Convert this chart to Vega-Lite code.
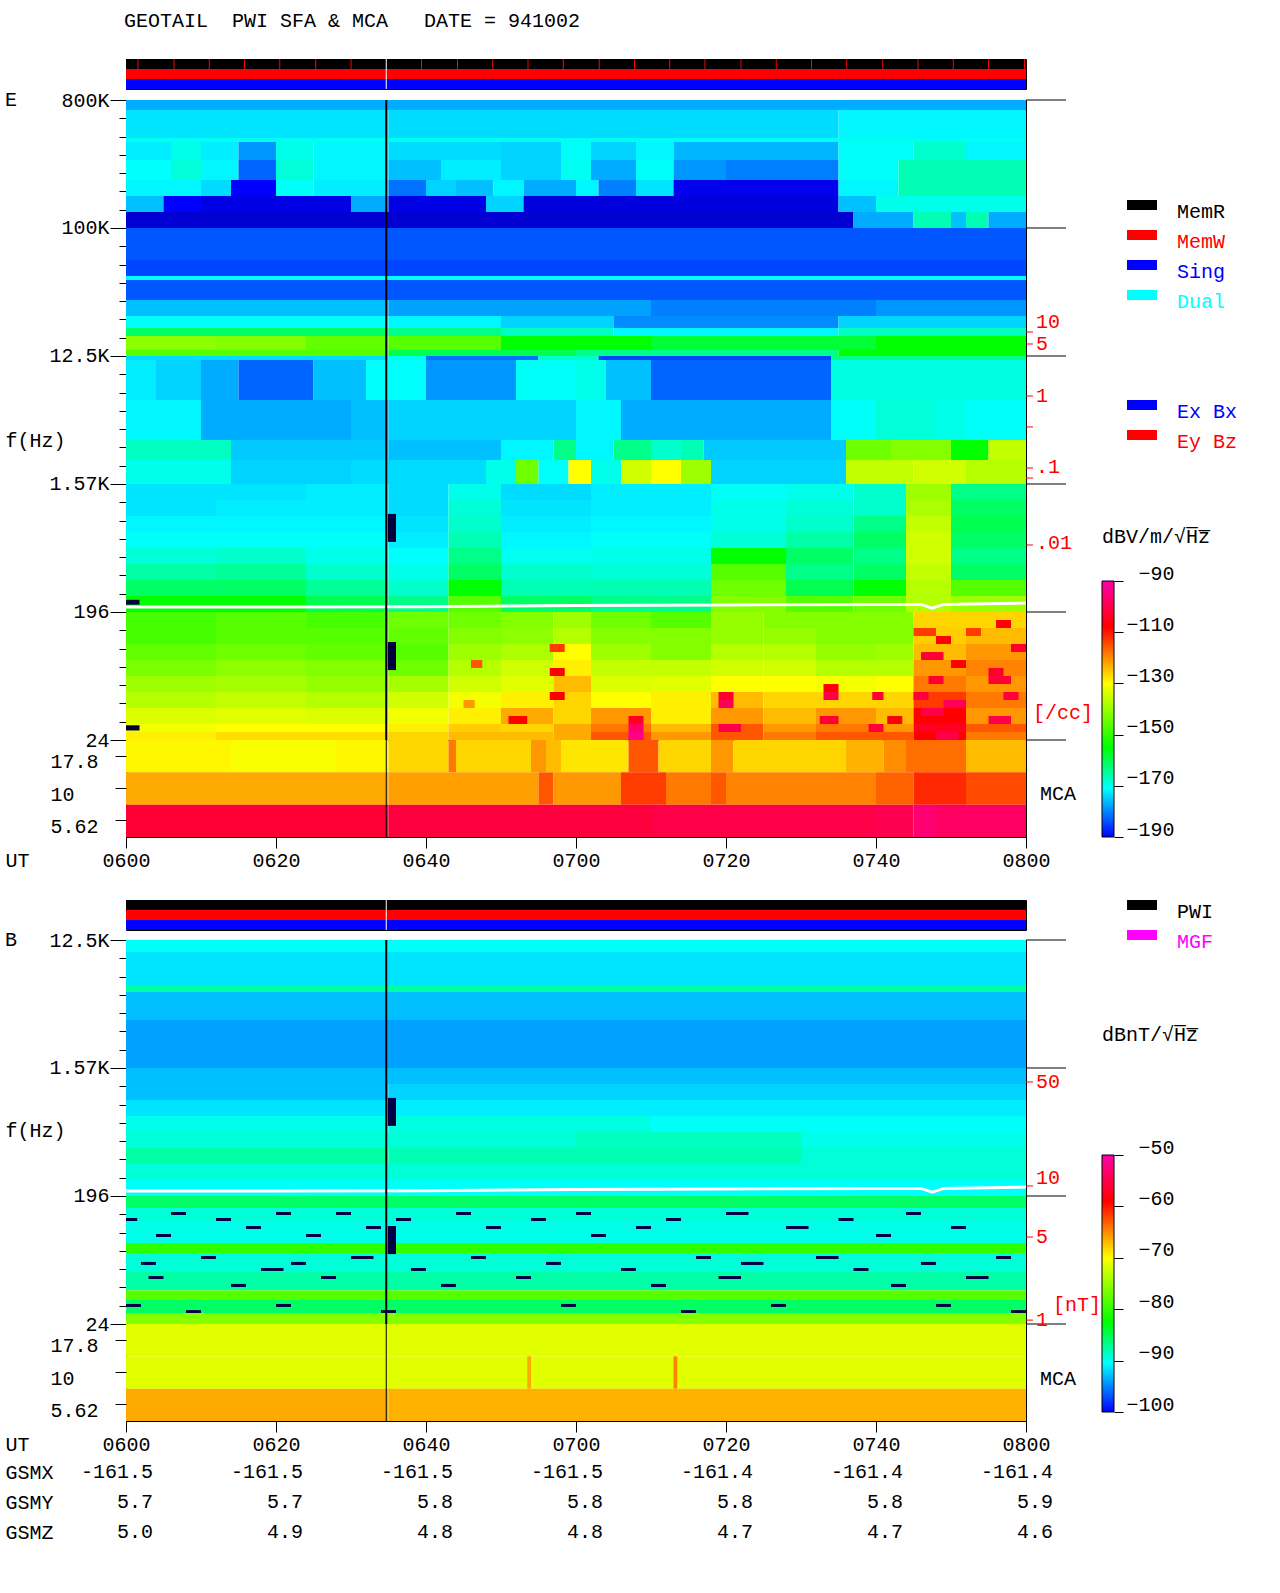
{"$schema":"https://vega.github.io/schema/vega-lite/v6.json","autosize":"none","padding":{"left":126,"top":0,"right":1154,"bottom":1593},"background":"white",
"config":{"font":"Liberation Mono","view":{"stroke":null},"axis":{"grid":false,"domain":false,"labelFont":"Liberation Mono","labelFontSize":20,"titleFont":"Liberation Mono","titleFontSize":20,"titleFontWeight":"normal","labelOverlap":false,"labelBound":false,"labelFlush":false,"labelColor":"black","tickColor":"black","titleColor":"black"},"title":{"font":"Liberation Mono","fontSize":20,"fontWeight":"normal","anchor":"start","frame":"group"},"concat":{"spacing":0}},
"datasets":{
"st":[{"m":"MemR","t":0,"t2":120,"k":"black"},{"m":"MemW","t":0,"t2":120,"k":"red"},{"m":"Sing","t":0,"t2":120,"k":"blue"}],
"blE":[{"f":800000},{"f":100000},{"f":12500},{"f":1562.5},{"f":195.3},{"f":24.41}],
"blB":[{"f":12500},{"f":1562.5},{"f":195.3},{"f":24.41}],
"nE":[{"f":18460,"lf":21680,"s":"10"},{"f":15190,"lf":15190,"s":"\u00a05"},{"f":6527,"lf":6527,"s":"\u00a01"},{"f":3949,"lf":3949,"s":""},{"f":2026,"lf":2060,"s":".1"},{"f":1721,"lf":1721,"s":""},{"f":580,"lf":600,"s":".01"}],
"nB":[{"f":1245,"lf":1245,"s":"50"},{"f":230,"lf":261.9,"s":"10"},{"f":100.3,"lf":100.3,"s":"5"},{"f":26,"lf":26,"s":"1"}],
"bE":[{"b":1,"f":800000,"f2":680000},{"b":2,"f":680000,"f2":431600},{"b":3,"f":431600,"f2":404500},{"b":4,"f":404500,"f2":301800},{"b":5,"f":301800,"f2":218100},{"b":6,"f":218100,"f2":168200},{"b":7,"f":168200,"f2":129700},{"b":8,"f":129700,"f2":100000},{"b":9,"f":100000,"f2":59460},{"b":10,"f":59460,"f2":45850},{"b":11,"f":45850,"f2":42970},{"b":12,"f":42970,"f2":31050},{"b":13,"f":31050,"f2":23940},{"b":14,"f":23940,"f2":19700},{"b":15,"f":19700,"f2":17300},{"b":16,"f":17300,"f2":13770},{"b":17,"f":13770,"f2":12500},{"b":18,"f":12500,"f2":11710},{"b":19,"f":11710,"f2":6116},{"b":20,"f":6116,"f2":3195},{"b":21,"f":3195,"f2":2308},{"b":22,"f":2308,"f2":1562.5},{"b":23,"f":1562.5,"f2":1205},{"b":24,"f":1205,"f2":929},{"b":25,"f":929,"f2":716.4},{"b":26,"f":716.4,"f2":552.5},{"b":27,"f":552.5,"f2":426},{"b":28,"f":426,"f2":328.4},{"b":29,"f":328.4,"f2":253.3},{"b":30,"f":253.3,"f2":195.3},{"b":31,"f":195.3,"f2":150.6},{"b":32,"f":150.6,"f2":116.1},{"b":33,"f":116.1,"f2":89.55},{"b":34,"f":89.55,"f2":69.05},{"b":35,"f":69.05,"f2":53.24},{"b":36,"f":53.24,"f2":41.05},{"b":37,"f":41.05,"f2":31.66},{"b":38,"f":31.66,"f2":27.8},{"b":39,"f":27.8,"f2":24.41},{"b":41,"f":195.3,"f2":171.5},{"b":42,"f":171.5,"f2":150.6},{"b":43,"f":150.6,"f2":132.2},{"b":44,"f":132.2,"f2":116.1},{"b":45,"f":116.1,"f2":101.9},{"b":46,"f":101.9,"f2":89.55},{"b":47,"f":89.55,"f2":78.6},{"b":48,"f":78.6,"f2":69.05},{"b":49,"f":69.05,"f2":60.6},{"b":50,"f":60.6,"f2":53.24},{"b":51,"f":53.24,"f2":46.75},{"b":52,"f":46.75,"f2":41.05},{"b":53,"f":41.05,"f2":36.05},{"b":54,"f":36.05,"f2":31.66},{"b":55,"f":31.66,"f2":27.8},{"b":56,"f":27.8,"f2":24.41},{"b":60,"f":961,"f2":610},{"b":61,"f":120,"f2":76},{"b":62,"f":238,"f2":220},{"b":63,"f":31,"f2":28.5}],
"E":[{"t":0,"t2":120,"b":1,"v":-180},{"t":0,"t2":35,"b":2,"v":-174},{"t":35,"t2":95,"b":2,"v":-175},{"t":95,"t2":120,"b":2,"v":-172},{"t":0,"t2":120,"b":3,"v":-169},
{"t":0,"t2":6,"b":4,"v":-173},{"t":6,"t2":10,"b":4,"v":-168},{"t":10,"t2":15,"b":4,"v":-173},{"t":15,"t2":20,"b":4,"v":-182},{"t":20,"t2":25,"b":4,"v":-168},{"t":25,"t2":35,"b":4,"v":-172},{"t":35,"t2":50,"b":4,"v":-175},{"t":50,"t2":58,"b":4,"v":-176},{"t":58,"t2":62,"b":4,"v":-170},{"t":62,"t2":68,"b":4,"v":-176},{"t":68,"t2":73,"b":4,"v":-172},{"t":73,"t2":95,"b":4,"v":-179},{"t":95,"t2":105,"b":4,"v":-170},{"t":105,"t2":112,"b":4,"v":-165},{"t":112,"t2":120,"b":4,"v":-172},
{"t":0,"t2":6,"b":5,"v":-171},{"t":6,"t2":10,"b":5,"v":-166},{"t":10,"t2":15,"b":5,"v":-172},{"t":15,"t2":20,"b":5,"v":-186},{"t":20,"t2":25,"b":5,"v":-166},{"t":25,"t2":35,"b":5,"v":-172},{"t":35,"t2":42,"b":5,"v":-178},{"t":42,"t2":50,"b":5,"v":-173},{"t":50,"t2":58,"b":5,"v":-176},{"t":58,"t2":62,"b":5,"v":-169},{"t":62,"t2":68,"b":5,"v":-180},{"t":68,"t2":73,"b":5,"v":-170},{"t":73,"t2":80,"b":5,"v":-182},{"t":80,"t2":95,"b":5,"v":-184},{"t":95,"t2":103,"b":5,"v":-170},{"t":103,"t2":120,"b":5,"v":-163},
{"t":0,"t2":10,"b":6,"v":-172},{"t":10,"t2":14,"b":6,"v":-175},{"t":14,"t2":20,"b":6,"v":-190},{"t":20,"t2":25,"b":6,"v":-170},{"t":25,"t2":35,"b":6,"v":-173},{"t":35,"t2":40,"b":6,"v":-185},{"t":40,"t2":44,"b":6,"v":-176},{"t":44,"t2":49,"b":6,"v":-178},{"t":49,"t2":53,"b":6,"v":-172},{"t":53,"t2":60,"b":6,"v":-180},{"t":60,"t2":63,"b":6,"v":-172},{"t":63,"t2":68,"b":6,"v":-184},{"t":68,"t2":73,"b":6,"v":-174},{"t":73,"t2":95,"b":6,"v":-192},{"t":95,"t2":103,"b":6,"v":-172},{"t":103,"t2":120,"b":6,"v":-163},
{"t":0,"t2":5,"b":7,"v":-178},{"t":5,"t2":10,"b":7,"v":-190},{"t":10,"t2":30,"b":7,"v":-193},{"t":30,"t2":35,"b":7,"v":-180},{"t":35,"t2":48,"b":7,"v":-193},{"t":48,"t2":53,"b":7,"v":-176},{"t":53,"t2":95,"b":7,"v":-194},{"t":95,"t2":100,"b":7,"v":-178},{"t":100,"t2":120,"b":7,"v":-168},
{"t":0,"t2":97,"b":8,"v":-195},{"t":97,"t2":105,"b":8,"v":-180},{"t":105,"t2":110,"b":8,"v":-163},{"t":110,"t2":112,"b":8,"v":-178},{"t":112,"t2":115,"b":8,"v":-163},{"t":115,"t2":120,"b":8,"v":-180},
{"t":0,"t2":120,"b":9,"v":-187},{"t":0,"t2":120,"b":10,"v":-188},{"t":0,"t2":120,"b":11,"v":-171},{"t":0,"t2":120,"b":12,"v":-187},
{"t":0,"t2":35,"b":13,"v":-178},{"t":35,"t2":70,"b":13,"v":-181},{"t":70,"t2":100,"b":13,"v":-184},{"t":100,"t2":120,"b":13,"v":-182},
{"t":0,"t2":35,"b":14,"v":-170},{"t":35,"t2":50,"b":14,"v":-172},{"t":50,"t2":65,"b":14,"v":-176},{"t":65,"t2":95,"b":14,"v":-183},{"t":95,"t2":120,"b":14,"v":-176},
{"t":0,"t2":35,"b":15,"v":-158},{"t":35,"t2":50,"b":15,"v":-160},{"t":50,"t2":65,"b":15,"v":-164},{"t":65,"t2":95,"b":15,"v":-172},{"t":95,"t2":120,"b":15,"v":-164},
{"t":0,"t2":12,"b":16,"v":-147},{"t":12,"t2":24,"b":16,"v":-148},{"t":24,"t2":35,"b":16,"v":-151},{"t":35,"t2":50,"b":16,"v":-152},{"t":50,"t2":70,"b":16,"v":-155},{"t":70,"t2":100,"b":16,"v":-156},{"t":100,"t2":120,"b":16,"v":-155},
{"t":0,"t2":35,"b":17,"v":-152},{"t":35,"t2":60,"b":17,"v":-157},{"t":60,"t2":95,"b":17,"v":-160},{"t":95,"t2":120,"b":17,"v":-155},
{"t":0,"t2":35,"b":18,"v":-175},{"t":35,"t2":40,"b":18,"v":-168},{"t":40,"t2":55,"b":18,"v":-185},{"t":55,"t2":63,"b":18,"v":-165},{"t":63,"t2":94,"b":18,"v":-188},{"t":94,"t2":120,"b":18,"v":-160},
{"t":0,"t2":4,"b":19,"v":-173},{"t":4,"t2":10,"b":19,"v":-176},{"t":10,"t2":15,"b":19,"v":-180},{"t":15,"t2":25,"b":19,"v":-186},{"t":25,"t2":32,"b":19,"v":-178},{"t":32,"t2":40,"b":19,"v":-171},{"t":40,"t2":52,"b":19,"v":-182},{"t":52,"t2":60,"b":19,"v":-170},{"t":60,"t2":64,"b":19,"v":-168},{"t":64,"t2":70,"b":19,"v":-178},{"t":70,"t2":94,"b":19,"v":-186},{"t":94,"t2":120,"b":19,"v":-167},
{"t":0,"t2":10,"b":20,"v":-172},{"t":10,"t2":30,"b":20,"v":-180},{"t":30,"t2":35,"b":20,"v":-178},{"t":35,"t2":60,"b":20,"v":-176},{"t":60,"t2":66,"b":20,"v":-172},{"t":66,"t2":94,"b":20,"v":-180},{"t":94,"t2":100,"b":20,"v":-170},{"t":100,"t2":108,"b":20,"v":-166},{"t":108,"t2":112,"b":20,"v":-168},{"t":112,"t2":120,"b":20,"v":-170},
{"t":0,"t2":14,"b":21,"v":-164},{"t":14,"t2":35,"b":21,"v":-177},{"t":35,"t2":50,"b":21,"v":-178},{"t":50,"t2":57,"b":21,"v":-172},{"t":57,"t2":60,"b":21,"v":-160},{"t":60,"t2":65,"b":21,"v":-172},{"t":65,"t2":70,"b":21,"v":-160},{"t":70,"t2":74,"b":21,"v":-165},{"t":74,"t2":77,"b":21,"v":-163},{"t":77,"t2":96,"b":21,"v":-177},{"t":96,"t2":102,"b":21,"v":-150},{"t":102,"t2":110,"b":21,"v":-148},{"t":110,"t2":115,"b":21,"v":-155},{"t":115,"t2":120,"b":21,"v":-140},
{"t":0,"t2":14,"b":22,"v":-168},{"t":14,"t2":30,"b":22,"v":-176},{"t":30,"t2":48,"b":22,"v":-175},{"t":48,"t2":52,"b":22,"v":-168},{"t":52,"t2":55,"b":22,"v":-150},{"t":55,"t2":59,"b":22,"v":-170},{"t":59,"t2":62,"b":22,"v":-130},{"t":62,"t2":66,"b":22,"v":-168},{"t":66,"t2":70,"b":22,"v":-138},{"t":70,"t2":74,"b":22,"v":-130},{"t":74,"t2":78,"b":22,"v":-145},{"t":78,"t2":96,"b":22,"v":-176},{"t":96,"t2":105,"b":22,"v":-140},{"t":105,"t2":112,"b":22,"v":-138},{"t":112,"t2":120,"b":22,"v":-142},
{"t":0,"t2":12,"b":23,"v":-174},{"t":12,"t2":24,"b":23,"v":-174},{"t":24,"t2":35,"b":23,"v":-173},{"t":35,"t2":43,"b":23,"v":-175},{"t":43,"t2":50,"b":23,"v":-168},{"t":50,"t2":62,"b":23,"v":-175},{"t":62,"t2":78,"b":23,"v":-173},{"t":78,"t2":88,"b":23,"v":-170},{"t":88,"t2":97,"b":23,"v":-168},{"t":97,"t2":104,"b":23,"v":-165},{"t":104,"t2":110,"b":23,"v":-145},{"t":110,"t2":120,"b":23,"v":-160},
{"t":0,"t2":12,"b":24,"v":-174},{"t":12,"t2":24,"b":24,"v":-173},{"t":24,"t2":35,"b":24,"v":-173},{"t":35,"t2":43,"b":24,"v":-175},{"t":43,"t2":50,"b":24,"v":-166},{"t":50,"t2":62,"b":24,"v":-174},{"t":62,"t2":78,"b":24,"v":-173},{"t":78,"t2":88,"b":24,"v":-168},{"t":88,"t2":97,"b":24,"v":-166},{"t":97,"t2":104,"b":24,"v":-165},{"t":104,"t2":110,"b":24,"v":-143},{"t":110,"t2":120,"b":24,"v":-158},
{"t":0,"t2":12,"b":25,"v":-172},{"t":12,"t2":24,"b":25,"v":-172},{"t":24,"t2":35,"b":25,"v":-172},{"t":35,"t2":43,"b":25,"v":-174},{"t":43,"t2":50,"b":25,"v":-165},{"t":50,"t2":62,"b":25,"v":-173},{"t":62,"t2":78,"b":25,"v":-172},{"t":78,"t2":88,"b":25,"v":-168},{"t":88,"t2":97,"b":25,"v":-165},{"t":97,"t2":104,"b":25,"v":-160},{"t":104,"t2":110,"b":25,"v":-140},{"t":110,"t2":120,"b":25,"v":-157},
{"t":0,"t2":12,"b":26,"v":-170},{"t":12,"t2":24,"b":26,"v":-170},{"t":24,"t2":35,"b":26,"v":-170},{"t":35,"t2":43,"b":26,"v":-173},{"t":43,"t2":50,"b":26,"v":-163},{"t":50,"t2":62,"b":26,"v":-172},{"t":62,"t2":78,"b":26,"v":-170},{"t":78,"t2":88,"b":26,"v":-166},{"t":88,"t2":97,"b":26,"v":-162},{"t":97,"t2":104,"b":26,"v":-158},{"t":104,"t2":110,"b":26,"v":-138},{"t":110,"t2":120,"b":26,"v":-158},
{"t":0,"t2":12,"b":27,"v":-166},{"t":12,"t2":24,"b":27,"v":-165},{"t":24,"t2":35,"b":27,"v":-168},{"t":35,"t2":43,"b":27,"v":-171},{"t":43,"t2":50,"b":27,"v":-160},{"t":50,"t2":62,"b":27,"v":-169},{"t":62,"t2":78,"b":27,"v":-168},{"t":78,"t2":88,"b":27,"v":-155},{"t":88,"t2":97,"b":27,"v":-158},{"t":97,"t2":104,"b":27,"v":-160},{"t":104,"t2":110,"b":27,"v":-138},{"t":110,"t2":120,"b":27,"v":-160},
{"t":0,"t2":12,"b":28,"v":-162},{"t":12,"t2":24,"b":28,"v":-161},{"t":24,"t2":35,"b":28,"v":-165},{"t":35,"t2":43,"b":28,"v":-168},{"t":43,"t2":50,"b":28,"v":-158},{"t":50,"t2":62,"b":28,"v":-165},{"t":62,"t2":78,"b":28,"v":-166},{"t":78,"t2":88,"b":28,"v":-152},{"t":88,"t2":97,"b":28,"v":-160},{"t":97,"t2":104,"b":28,"v":-158},{"t":104,"t2":110,"b":28,"v":-140},{"t":110,"t2":120,"b":28,"v":-158},
{"t":0,"t2":12,"b":29,"v":-158},{"t":12,"t2":24,"b":29,"v":-158},{"t":24,"t2":35,"b":29,"v":-161},{"t":35,"t2":43,"b":29,"v":-165},{"t":43,"t2":50,"b":29,"v":-155},{"t":50,"t2":62,"b":29,"v":-163},{"t":62,"t2":78,"b":29,"v":-163},{"t":78,"t2":88,"b":29,"v":-150},{"t":88,"t2":97,"b":29,"v":-157},{"t":97,"t2":104,"b":29,"v":-155},{"t":104,"t2":110,"b":29,"v":-142},{"t":110,"t2":120,"b":29,"v":-152},
{"t":0,"t2":12,"b":30,"v":-155},{"t":12,"t2":24,"b":30,"v":-155},{"t":24,"t2":35,"b":30,"v":-157},{"t":35,"t2":43,"b":30,"v":-160},{"t":43,"t2":50,"b":30,"v":-152},{"t":50,"t2":62,"b":30,"v":-158},{"t":62,"t2":78,"b":30,"v":-160},{"t":78,"t2":88,"b":30,"v":-148},{"t":88,"t2":97,"b":30,"v":-152},{"t":97,"t2":104,"b":30,"v":-150},{"t":104,"t2":110,"b":30,"v":-142},{"t":110,"t2":120,"b":30,"v":-145},
{"t":0,"t2":12,"b":31,"v":-153},{"t":12,"t2":24,"b":31,"v":-152},{"t":24,"t2":35,"b":31,"v":-153},{"t":35,"t2":43,"b":31,"v":-150},{"t":43,"t2":50,"b":31,"v":-150},{"t":50,"t2":57,"b":31,"v":-148},{"t":57,"t2":62,"b":31,"v":-145},{"t":62,"t2":70,"b":31,"v":-150},{"t":70,"t2":78,"b":31,"v":-152},{"t":78,"t2":85,"b":31,"v":-146},{"t":85,"t2":92,"b":31,"v":-148},{"t":92,"t2":100,"b":31,"v":-148},{"t":100,"t2":105,"b":31,"v":-148},{"t":105,"t2":112,"b":31,"v":-125},{"t":112,"t2":120,"b":31,"v":-125},
{"t":0,"t2":12,"b":32,"v":-153},{"t":12,"t2":24,"b":32,"v":-152},{"t":24,"t2":35,"b":32,"v":-152},{"t":35,"t2":43,"b":32,"v":-151},{"t":43,"t2":50,"b":32,"v":-148},{"t":50,"t2":57,"b":32,"v":-147},{"t":57,"t2":62,"b":32,"v":-142},{"t":62,"t2":70,"b":32,"v":-148},{"t":70,"t2":78,"b":32,"v":-148},{"t":78,"t2":85,"b":32,"v":-146},{"t":85,"t2":92,"b":32,"v":-146},{"t":92,"t2":100,"b":32,"v":-148},{"t":100,"t2":105,"b":32,"v":-148},{"t":105,"t2":112,"b":32,"v":-124},{"t":112,"t2":120,"b":32,"v":-122},
{"t":0,"t2":12,"b":33,"v":-151},{"t":12,"t2":24,"b":33,"v":-150},{"t":24,"t2":35,"b":33,"v":-151},{"t":35,"t2":43,"b":33,"v":-152},{"t":43,"t2":50,"b":33,"v":-145},{"t":50,"t2":57,"b":33,"v":-143},{"t":57,"t2":62,"b":33,"v":-130},{"t":62,"t2":70,"b":33,"v":-145},{"t":70,"t2":78,"b":33,"v":-148},{"t":78,"t2":85,"b":33,"v":-142},{"t":85,"t2":92,"b":33,"v":-142},{"t":92,"t2":100,"b":33,"v":-146},{"t":100,"t2":105,"b":33,"v":-145},{"t":105,"t2":112,"b":33,"v":-122},{"t":112,"t2":120,"b":33,"v":-118},
{"t":0,"t2":12,"b":34,"v":-149},{"t":12,"t2":24,"b":34,"v":-147},{"t":24,"t2":35,"b":34,"v":-148},{"t":35,"t2":43,"b":34,"v":-150},{"t":43,"t2":50,"b":34,"v":-142},{"t":50,"t2":57,"b":34,"v":-138},{"t":57,"t2":62,"b":34,"v":-128},{"t":62,"t2":70,"b":34,"v":-140},{"t":70,"t2":78,"b":34,"v":-140},{"t":78,"t2":85,"b":34,"v":-138},{"t":85,"t2":92,"b":34,"v":-138},{"t":92,"t2":100,"b":34,"v":-142},{"t":100,"t2":105,"b":34,"v":-142},{"t":105,"t2":112,"b":34,"v":-118},{"t":112,"t2":120,"b":34,"v":-116},
{"t":0,"t2":12,"b":35,"v":-145},{"t":12,"t2":24,"b":35,"v":-144},{"t":24,"t2":35,"b":35,"v":-146},{"t":35,"t2":43,"b":35,"v":-144},{"t":43,"t2":50,"b":35,"v":-138},{"t":50,"t2":57,"b":35,"v":-135},{"t":57,"t2":62,"b":35,"v":-122},{"t":62,"t2":70,"b":35,"v":-136},{"t":70,"t2":78,"b":35,"v":-135},{"t":78,"t2":85,"b":35,"v":-130},{"t":85,"t2":92,"b":35,"v":-130},{"t":92,"t2":100,"b":35,"v":-132},{"t":100,"t2":105,"b":35,"v":-130},{"t":105,"t2":112,"b":35,"v":-115},{"t":112,"t2":120,"b":35,"v":-118},
{"t":0,"t2":12,"b":36,"v":-142},{"t":12,"t2":24,"b":36,"v":-140},{"t":24,"t2":35,"b":36,"v":-142},{"t":35,"t2":43,"b":36,"v":-138},{"t":43,"t2":50,"b":36,"v":-132},{"t":50,"t2":57,"b":36,"v":-128},{"t":57,"t2":62,"b":36,"v":-125},{"t":62,"t2":70,"b":36,"v":-130},{"t":70,"t2":78,"b":36,"v":-128},{"t":78,"t2":85,"b":36,"v":-122},{"t":85,"t2":92,"b":36,"v":-125},{"t":92,"t2":100,"b":36,"v":-125},{"t":100,"t2":105,"b":36,"v":-125},{"t":105,"t2":112,"b":36,"v":-110},{"t":112,"t2":120,"b":36,"v":-115},
{"t":0,"t2":12,"b":37,"v":-136},{"t":12,"t2":24,"b":37,"v":-135},{"t":24,"t2":35,"b":37,"v":-136},{"t":35,"t2":43,"b":37,"v":-132},{"t":43,"t2":50,"b":37,"v":-128},{"t":50,"t2":57,"b":37,"v":-120},{"t":57,"t2":62,"b":37,"v":-125},{"t":62,"t2":70,"b":37,"v":-118},{"t":70,"t2":78,"b":37,"v":-128},{"t":78,"t2":85,"b":37,"v":-118},{"t":85,"t2":92,"b":37,"v":-122},{"t":92,"t2":100,"b":37,"v":-118},{"t":100,"t2":105,"b":37,"v":-122},{"t":105,"t2":112,"b":37,"v":-108},{"t":112,"t2":120,"b":37,"v":-118},
{"t":0,"t2":12,"b":38,"v":-132},{"t":12,"t2":24,"b":38,"v":-130},{"t":24,"t2":35,"b":38,"v":-130},{"t":35,"t2":43,"b":38,"v":-128},{"t":43,"t2":50,"b":38,"v":-124},{"t":50,"t2":57,"b":38,"v":-125},{"t":57,"t2":62,"b":38,"v":-120},{"t":62,"t2":70,"b":38,"v":-115},{"t":70,"t2":78,"b":38,"v":-122},{"t":78,"t2":85,"b":38,"v":-112},{"t":85,"t2":92,"b":38,"v":-118},{"t":92,"t2":100,"b":38,"v":-115},{"t":100,"t2":105,"b":38,"v":-118},{"t":105,"t2":112,"b":38,"v":-106},{"t":112,"t2":120,"b":38,"v":-112},
{"t":0,"t2":12,"b":39,"v":-128},{"t":12,"t2":24,"b":39,"v":-126},{"t":24,"t2":35,"b":39,"v":-126},{"t":35,"t2":43,"b":39,"v":-125},{"t":43,"t2":50,"b":39,"v":-122},{"t":50,"t2":57,"b":39,"v":-122},{"t":57,"t2":62,"b":39,"v":-120},{"t":62,"t2":70,"b":39,"v":-112},{"t":70,"t2":78,"b":39,"v":-118},{"t":78,"t2":85,"b":39,"v":-112},{"t":85,"t2":92,"b":39,"v":-115},{"t":92,"t2":100,"b":39,"v":-112},{"t":100,"t2":105,"b":39,"v":-112},{"t":105,"t2":112,"b":39,"v":-108},{"t":112,"t2":120,"b":39,"v":-115},
{"t":56.5,"t2":58.5,"b":45,"v":-110},{"t":56.5,"t2":58.5,"b":48,"v":-108},{"t":56.5,"t2":58.5,"b":51,"v":-108},{"t":46,"t2":47.5,"b":47,"v":-112},{"t":45,"t2":46.5,"b":52,"v":-118},{"t":51,"t2":53.5,"b":54,"v":-108},{"t":67,"t2":69,"b":54,"v":-106},{"t":67,"t2":69,"b":55,"v":-98},{"t":67,"t2":69,"b":56,"v":-94},{"t":79,"t2":81,"b":51,"v":-105},{"t":79,"t2":81,"b":52,"v":-100},{"t":79,"t2":82,"b":55,"v":-102},{"t":93,"t2":95,"b":50,"v":-108},{"t":93,"t2":95,"b":51,"v":-102},{"t":92.5,"t2":95,"b":54,"v":-104},{"t":99.5,"t2":101,"b":51,"v":-104},{"t":99,"t2":101,"b":55,"v":-104},{"t":101.5,"t2":103.5,"b":54,"v":-108},
{"t":105,"t2":108,"b":43,"v":-110},{"t":108,"t2":110,"b":44,"v":-108},{"t":112,"t2":114,"b":43,"v":-110},{"t":116,"t2":118,"b":42,"v":-108},{"t":118,"t2":120,"b":45,"v":-105},{"t":106,"t2":109,"b":46,"v":-104},{"t":110,"t2":112,"b":47,"v":-108},{"t":115,"t2":117,"b":48,"v":-105},{"t":107,"t2":109,"b":49,"v":-104},{"t":115,"t2":118,"b":49,"v":-104},{"t":105,"t2":107,"b":51,"v":-103},{"t":109,"t2":112,"b":52,"v":-100},{"t":117,"t2":119,"b":51,"v":-103},{"t":106,"t2":109,"b":53,"v":-102},{"t":115,"t2":118,"b":54,"v":-102},{"t":108,"t2":111,"b":56,"v":-102},
{"t":34.9,"t2":36,"b":60,"v":-215},{"t":34.9,"t2":36,"b":61,"v":-215},{"t":0,"t2":1.8,"b":62,"v":-215},{"t":0,"t2":1.8,"b":63,"v":-215}],
"bB":[{"b":1,"f":12500,"f2":10290},{"b":2,"f":10290,"f2":5919},{"b":3,"f":5919,"f2":5371},{"b":4,"f":5371,"f2":3408},{"b":5,"f":3408,"f2":1562.5},{"b":6,"f":1562.5,"f2":1205},{"b":7,"f":1205,"f2":929},{"b":8,"f":929,"f2":716.4},{"b":9,"f":716.4,"f2":552.5},{"b":10,"f":552.5,"f2":426},{"b":11,"f":426,"f2":328.4},{"b":12,"f":328.4,"f2":253.3},{"b":13,"f":253.3,"f2":195.3},{"b":14,"f":195.3,"f2":160.7},{"b":15,"f":160.7,"f2":128},{"b":16,"f":128,"f2":91},{"b":17,"f":91,"f2":77.3},{"b":18,"f":77.3,"f2":56.8},{"b":19,"f":56.8,"f2":42.3},{"b":20,"f":42.3,"f2":36.05},{"b":21,"f":36.05,"f2":28.8},{"b":22,"f":28.8,"f2":24.41},{"b":30,"f":150.6,"f2":143.5},{"b":31,"f":136.6,"f2":130.1},{"b":32,"f":119.9,"f2":114.2},{"b":33,"f":105.3,"f2":100.3},{"b":34,"f":73.7,"f2":70.2},{"b":35,"f":66.9,"f2":63.7},{"b":36,"f":60.6,"f2":57.8},{"b":37,"f":53.2,"f2":50.7},{"b":38,"f":46.8,"f2":44.5},{"b":39,"f":33.8,"f2":32.2},{"b":40,"f":30.6,"f2":29.2},{"b":60,"f":961,"f2":610},{"b":61,"f":120,"f2":76}],
"B":[{"t":0,"t2":120,"b":1,"v":-90},{"t":0,"t2":120,"b":2,"v":-92},{"t":0,"t2":120,"b":3,"v":-86},{"t":0,"t2":120,"b":4,"v":-94},{"t":0,"t2":120,"b":5,"v":-95.5},{"t":0,"t2":120,"b":6,"v":-94},
{"t":0,"t2":35,"b":7,"v":-94},{"t":35,"t2":120,"b":7,"v":-93},{"t":0,"t2":35,"b":8,"v":-92},{"t":35,"t2":120,"b":8,"v":-91.5},{"t":0,"t2":35,"b":9,"v":-89},{"t":35,"t2":70,"b":9,"v":-88.5},{"t":70,"t2":120,"b":9,"v":-90},{"t":0,"t2":60,"b":10,"v":-88},{"t":60,"t2":90,"b":10,"v":-87},{"t":90,"t2":120,"b":10,"v":-89},{"t":0,"t2":35,"b":11,"v":-86},{"t":35,"t2":90,"b":11,"v":-86.5},{"t":90,"t2":120,"b":11,"v":-88},{"t":0,"t2":120,"b":12,"v":-88},{"t":0,"t2":120,"b":13,"v":-90},
{"t":0,"t2":120,"b":14,"v":-84},{"t":0,"t2":120,"b":15,"v":-88},{"t":0,"t2":120,"b":16,"v":-89},{"t":0,"t2":120,"b":17,"v":-82},{"t":0,"t2":120,"b":18,"v":-88},{"t":0,"t2":120,"b":19,"v":-86},{"t":0,"t2":120,"b":20,"v":-81},{"t":0,"t2":120,"b":21,"v":-84},{"t":0,"t2":120,"b":22,"v":-79},
{"t":6,"t2":8,"b":30,"v":-112},{"t":20,"t2":22,"b":30,"v":-112},{"t":28,"t2":30,"b":30,"v":-112},{"t":44,"t2":46,"b":30,"v":-112},{"t":60,"t2":62,"b":30,"v":-112},{"t":80,"t2":83,"b":30,"v":-112},{"t":104,"t2":106,"b":30,"v":-112},{"t":0,"t2":1.5,"b":31,"v":-112},{"t":12,"t2":14,"b":31,"v":-112},{"t":36,"t2":38,"b":31,"v":-112},{"t":54,"t2":56,"b":31,"v":-112},{"t":72,"t2":74,"b":31,"v":-112},{"t":95,"t2":97,"b":31,"v":-112},{"t":16,"t2":18,"b":32,"v":-112},{"t":32,"t2":34,"b":32,"v":-112},{"t":48,"t2":50,"b":32,"v":-112},{"t":68,"t2":70,"b":32,"v":-112},{"t":88,"t2":91,"b":32,"v":-112},{"t":110,"t2":112,"b":32,"v":-112},{"t":4,"t2":6,"b":33,"v":-112},{"t":24,"t2":26,"b":33,"v":-112},{"t":62,"t2":64,"b":33,"v":-112},{"t":100,"t2":102,"b":33,"v":-112},
{"t":10,"t2":12,"b":34,"v":-112},{"t":30,"t2":33,"b":34,"v":-112},{"t":46,"t2":48,"b":34,"v":-112},{"t":76,"t2":78,"b":34,"v":-112},{"t":92,"t2":95,"b":34,"v":-112},{"t":116,"t2":118,"b":34,"v":-112},{"t":2,"t2":4,"b":35,"v":-112},{"t":22,"t2":24,"b":35,"v":-112},{"t":56,"t2":58,"b":35,"v":-112},{"t":82,"t2":85,"b":35,"v":-112},{"t":106,"t2":108,"b":35,"v":-112},{"t":18,"t2":21,"b":36,"v":-112},{"t":38,"t2":40,"b":36,"v":-112},{"t":66,"t2":68,"b":36,"v":-112},{"t":97,"t2":99,"b":36,"v":-112},{"t":3,"t2":5,"b":37,"v":-112},{"t":26,"t2":28,"b":37,"v":-112},{"t":52,"t2":54,"b":37,"v":-112},{"t":79,"t2":82,"b":37,"v":-112},{"t":112,"t2":115,"b":37,"v":-112},{"t":14,"t2":16,"b":38,"v":-112},{"t":42,"t2":44,"b":38,"v":-112},{"t":70,"t2":72,"b":38,"v":-112},{"t":102,"t2":104,"b":38,"v":-112},{"t":0,"t2":2,"b":39,"v":-112},{"t":20,"t2":22,"b":39,"v":-112},{"t":58,"t2":60,"b":39,"v":-112},{"t":86,"t2":88,"b":39,"v":-112},{"t":108,"t2":110,"b":39,"v":-112},{"t":8,"t2":10,"b":40,"v":-112},{"t":34,"t2":36,"b":40,"v":-112},{"t":74,"t2":76,"b":40,"v":-112},{"t":118,"t2":120,"b":40,"v":-112},
{"t":34.9,"t2":36,"b":60,"v":-112},{"t":34.9,"t2":36,"b":61,"v":-112}],
"mE":[{"t":0,"t2":14,"c":"17.8","v":-129},{"t":14,"t2":28,"c":"17.8","v":-131},{"t":28,"t2":35,"c":"17.8","v":-129},{"t":35,"t2":43,"c":"17.8","v":-125},{"t":43,"t2":44,"c":"17.8","v":-115},{"t":44,"t2":54,"c":"17.8","v":-125},{"t":54,"t2":56,"c":"17.8","v":-118},{"t":56,"t2":58,"c":"17.8","v":-122},{"t":58,"t2":67,"c":"17.8","v":-127},{"t":67,"t2":71,"c":"17.8","v":-112},{"t":71,"t2":78,"c":"17.8","v":-125},{"t":78,"t2":81,"c":"17.8","v":-118},{"t":81,"t2":96,"c":"17.8","v":-125},{"t":96,"t2":101,"c":"17.8","v":-121},{"t":101,"t2":104,"c":"17.8","v":-117},{"t":104,"t2":112,"c":"17.8","v":-114},{"t":112,"t2":120,"c":"17.8","v":-122},
{"t":0,"t2":35,"c":"10","v":-120},{"t":35,"t2":55,"c":"10","v":-119},{"t":55,"t2":57,"c":"10","v":-112},{"t":57,"t2":66,"c":"10","v":-118},{"t":66,"t2":72,"c":"10","v":-110},{"t":72,"t2":78,"c":"10","v":-115},{"t":78,"t2":80,"c":"10","v":-112},{"t":80,"t2":100,"c":"10","v":-116},{"t":100,"t2":105,"c":"10","v":-113},{"t":105,"t2":112,"c":"10","v":-109},{"t":112,"t2":120,"c":"10","v":-111},
{"t":0,"t2":35,"c":"5.62","v":-104},{"t":35,"t2":70,"c":"5.62","v":-103},{"t":70,"t2":100,"c":"5.62","v":-102},{"t":100,"t2":105,"c":"5.62","v":-101},{"t":105,"t2":108,"c":"5.62","v":-97},{"t":108,"t2":120,"c":"5.62","v":-99}],
"mB":[{"t":0,"t2":120,"c":"17.8","v":-72.5},{"t":0,"t2":120,"c":"10","v":-72.5},{"t":53.5,"t2":54,"c":"10","v":-65},{"t":73,"t2":73.5,"c":"10","v":-63},{"t":0,"t2":35,"c":"5.62","v":-65},{"t":35,"t2":120,"c":"5.62","v":-65.5}],
"wl":[{"t":0,"f":212},{"t":20,"f":212},{"t":40,"f":213},{"t":60,"f":217},{"t":80,"f":219},{"t":100,"f":221},{"t":106,"f":221},{"t":107.5,"f":208},{"t":109,"f":221},{"t":120,"f":226}],
"vl":[{"t":34.7}],
"tk":[{"t":1.6,"m":"MemR"},{"t":6.4,"m":"MemR"},{"t":11.1,"m":"MemR"},{"t":15.8,"m":"MemR"},{"t":20.5,"m":"MemR"},{"t":25.3,"m":"MemR"},{"t":30,"m":"MemR"},{"t":39.4,"m":"MemR"},{"t":44.2,"m":"MemR"},{"t":48.9,"m":"MemR"},{"t":53.6,"m":"MemR"},{"t":58.3,"m":"MemR"},{"t":63.1,"m":"MemR"},{"t":67.8,"m":"MemR"},{"t":72.5,"m":"MemR"},{"t":77.2,"m":"MemR"},{"t":82,"m":"MemR"},{"t":86.7,"m":"MemR"},{"t":91.4,"m":"MemR"},{"t":96.1,"m":"MemR"},{"t":100.9,"m":"MemR"},{"t":105.6,"m":"MemR"},{"t":110.3,"m":"MemR"},{"t":115,"m":"MemR"},{"t":119.8,"m":"MemR"}]
},
"resolve":{"scale":{"color":"independent"}},
"spacing":-4,
"hconcat":[
{"vconcat":[
{"width":900,"height":59,"data":{"values":[{"t":0,"s":"GEOTAIL\u00a0\u00a0PWI\u00a0SFA\u00a0&\u00a0MCA\u00a0\u00a0\u00a0DATE\u00a0=\u00a0941002"}]},"mark":{"type":"text","font":"Liberation Mono","fontSize":20,"align":"left","baseline":"middle","dx":-2,"color":"black"},"encoding":{"x":{"field":"t","type":"quantitative","scale":{"domain":[0,120]},"axis":null},"y":{"value":21},"text":{"field":"s"}}},
{"width":900,"height":30,"view":{"stroke":"black"},"layer":[
{"data":{"name":"st"},"mark":"rect","encoding":{"x":{"field":"t","type":"quantitative","scale":{"domain":[0,120]},"axis":null},"x2":{"field":"t2"},"y":{"field":"m","type":"nominal","scale":{"domain":["MemR","MemW","Sing"],"paddingInner":0,"paddingOuter":0},"axis":null},"fill":{"field":"k","type":"nominal","scale":null}}},
{"data":{"name":"tk"},"mark":{"type":"tick","orient":"vertical","color":"red","thickness":1,"size":10,"opacity":1},"encoding":{"x":{"field":"t","type":"quantitative"},"y":{"field":"m","type":"nominal"}}},
{"data":{"name":"vl"},"mark":{"type":"rule","color":"white","strokeWidth":1},"encoding":{"x":{"field":"t","type":"quantitative"}}}
]},
{"width":900,"height":11,"data":{"values":[{"a":1}]},"mark":{"type":"point","opacity":0},"encoding":{}},
{"width":900,"height":640,"view":{"stroke":"black"},"layer":[
{"data":{"name":"E"},"transform":[{"lookup":"b","from":{"data":{"name":"bE"},"key":"b","fields":["f","f2"]}}],"mark":"rect","encoding":{"x":{"field":"t","type":"quantitative","scale":{"domain":[0,120]},"axis":null},"x2":{"field":"t2"},"y":{"field":"f","type":"quantitative","scale":{"type":"log","domain":[24.41,800000],"nice":false},"axis":{"values":[800000,594400,441600,328100,243800,181100,134600,100000,74300,55200,41010,30470,22640,16820,12500,9288,6900,5127,3809,2830,2103,1562.5,1161,862.5,640.8,476.1,353.8,262.8,195.3,145.1,107.8,80.1,59.5,44.2,32.85,24.41],"tickSize":{"condition":{"test":"indexof([800000,100000,12500,1562.5,195.3,24.41],datum.value)>=0","value":16},"value":7},"labelPadding":1,"title":"f(Hz)","titleX":-121,"titleY":340,"titleAngle":0,"titleAlign":"left","titleBaseline":"middle","labelExpr":"datum.value==800000?'800K':datum.value==100000?'100K':datum.value==12500?'12.5K':datum.value==1562.5?'1.57K':datum.value==195.3?'196\u00a0':datum.value==24.41?'24\u00a0':''"}},"y2":{"field":"f2"},"color":{"field":"v","type":"quantitative","legend":null,"scale":{"domain":[-200,-190,-171,-155,-130,-108,-90],"range":["#000000","#0000ff","#00ffff","#00ff00","#ffff00","#ff0000","#ff00aa"]}}}},
{"data":{"name":"wl"},"mark":{"type":"line","color":"white","strokeWidth":3},"encoding":{"x":{"field":"t","type":"quantitative"},"y":{"field":"f","type":"quantitative"}}},
{"data":{"name":"vl"},"mark":{"type":"rule","color":"black","strokeWidth":2},"encoding":{"x":{"field":"t","type":"quantitative"}}},
{"data":{"name":"blE"},"mark":{"type":"rule","color":"black"},"encoding":{"x":{"datum":120},"x2":{"datum":125.33},"y":{"field":"f","type":"quantitative"}}},
{"data":{"name":"nE"},"mark":{"type":"rule","color":"red"},"encoding":{"x":{"datum":120},"x2":{"datum":120.93},"y":{"field":"f","type":"quantitative"}}},
{"data":{"name":"nE"},"mark":{"type":"text","font":"Liberation Mono","fontSize":20,"align":"left","baseline":"middle","color":"red"},"encoding":{"x":{"datum":121.33},"y":{"field":"lf","type":"quantitative"},"text":{"field":"s"}}},
{"data":{"values":[{"s":"E"}]},"mark":{"type":"text","font":"Liberation Mono","fontSize":20,"align":"left","baseline":"middle","color":"black"},"encoding":{"x":{"datum":-16.13},"y":{"datum":800000},"text":{"field":"s"}}},
{"data":{"values":[{"s":"[/cc]"}]},"mark":{"type":"text","font":"Liberation Mono","fontSize":20,"align":"left","baseline":"middle","color":"red"},"encoding":{"x":{"datum":120.93},"y":{"datum":37.9},"text":{"field":"s"}}}
]},
{"width":900,"height":97,"view":{"stroke":"black"},"layer":[
{"data":{"name":"mE"},"mark":"rect","encoding":{"x":{"field":"t","type":"quantitative","scale":{"domain":[0,120]},"axis":{"values":[0,20,40,60,80,100,120],"tickSize":11,"labelPadding":2,"labelExpr":"['0600','0620','0640','0700','0720','0740','0800'][datum.value/20]","title":"UT","titleX":-121,"titleY":23,"titleAlign":"left","titleBaseline":"middle"}},"x2":{"field":"t2"},"y":{"field":"c","type":"nominal","scale":{"domain":["17.8","10","5.62"],"paddingInner":0,"paddingOuter":0},"axis":{"tickSize":11,"labelAlign":"left","labelPadding":65,"labelOffset":6,"title":null}},"color":{"field":"v","type":"quantitative","legend":null,"scale":{"domain":[-200,-190,-171,-155,-130,-108,-90],"range":["#000000","#0000ff","#00ffff","#00ff00","#ffff00","#ff0000","#ff00aa"]}}}},
{"data":{"name":"vl"},"mark":{"type":"rule","color":"black","strokeWidth":1},"encoding":{"x":{"field":"t","type":"quantitative"}}},
{"data":{"values":[{"s":"MCA"}]},"mark":{"type":"text","font":"Liberation Mono","fontSize":20,"align":"left","baseline":"middle","dy":5,"color":"black"},"encoding":{"x":{"datum":121.87},"y":{"datum":"10"},"text":{"field":"s"}}}
]},
{"width":900,"height":63,"data":{"values":[{"a":1}]},"mark":{"type":"point","opacity":0},"encoding":{}},
{"width":900,"height":30,"view":{"stroke":"black"},"layer":[
{"data":{"name":"st"},"mark":"rect","encoding":{"x":{"field":"t","type":"quantitative","scale":{"domain":[0,120]},"axis":null},"x2":{"field":"t2"},"y":{"field":"m","type":"nominal","scale":{"domain":["MemR","MemW","Sing"],"paddingInner":0,"paddingOuter":0},"axis":null},"fill":{"field":"k","type":"nominal","scale":null}}},
{"data":{"name":"vl"},"mark":{"type":"rule","color":"white","strokeWidth":1},"encoding":{"x":{"field":"t","type":"quantitative"}}}
]},
{"width":900,"height":10,"data":{"values":[{"a":1}]},"mark":{"type":"point","opacity":0},"encoding":{}},
{"width":900,"height":384,"view":{"stroke":"black"},"layer":[
{"data":{"name":"B"},"transform":[{"lookup":"b","from":{"data":{"name":"bB"},"key":"b","fields":["f","f2"]}}],"mark":"rect","encoding":{"x":{"field":"t","type":"quantitative","scale":{"domain":[0,120]},"axis":null},"x2":{"field":"t2"},"y":{"field":"f","type":"quantitative","scale":{"type":"log","domain":[24.41,12500],"nice":false},"axis":{"values":[12500,9288,6900,5127,3809,2830,2103,1562.5,1161,862.5,640.8,476.1,353.8,262.8,195.3,145.1,107.8,80.1,59.5,44.2,32.85,24.41],"tickSize":{"condition":{"test":"indexof([12500,1562.5,195.3,24.41],datum.value)>=0","value":16},"value":7},"labelPadding":1,"title":"f(Hz)","titleX":-121,"titleY":190,"titleAngle":0,"titleAlign":"left","titleBaseline":"middle","labelExpr":"datum.value==12500?'12.5K':datum.value==1562.5?'1.57K':datum.value==195.3?'196\u00a0':datum.value==24.41?'24\u00a0':''"}},"y2":{"field":"f2"},"color":{"field":"v","type":"quantitative","legend":null,"scale":{"domain":[-105,-100,-90.5,-82.5,-70,-59,-50],"range":["#000000","#0000ff","#00ffff","#00ff00","#ffff00","#ff0000","#ff00aa"]}}}},
{"data":{"name":"wl"},"mark":{"type":"line","color":"white","strokeWidth":3},"encoding":{"x":{"field":"t","type":"quantitative"},"y":{"field":"f","type":"quantitative"}}},
{"data":{"name":"vl"},"mark":{"type":"rule","color":"black","strokeWidth":2},"encoding":{"x":{"field":"t","type":"quantitative"}}},
{"data":{"name":"blB"},"mark":{"type":"rule","color":"black"},"encoding":{"x":{"datum":120},"x2":{"datum":125.33},"y":{"field":"f","type":"quantitative"}}},
{"data":{"name":"nB"},"mark":{"type":"rule","color":"red"},"encoding":{"x":{"datum":120},"x2":{"datum":120.93},"y":{"field":"f","type":"quantitative"}}},
{"data":{"name":"nB"},"mark":{"type":"text","font":"Liberation Mono","fontSize":20,"align":"left","baseline":"middle","color":"red"},"encoding":{"x":{"datum":121.33},"y":{"field":"lf","type":"quantitative"},"text":{"field":"s"}}},
{"data":{"values":[{"s":"B"}]},"mark":{"type":"text","font":"Liberation Mono","fontSize":20,"align":"left","baseline":"middle","color":"black"},"encoding":{"x":{"datum":-16.13},"y":{"datum":12500},"text":{"field":"s"}}},
{"data":{"values":[{"s":"[nT]"}]},"mark":{"type":"text","font":"Liberation Mono","fontSize":20,"align":"left","baseline":"middle","color":"red"},"encoding":{"x":{"datum":123.6},"y":{"datum":33.2},"text":{"field":"s"}}}
]},
{"width":900,"height":97,"view":{"stroke":"black"},"layer":[
{"data":{"name":"mB"},"mark":"rect","encoding":{"x":{"field":"t","type":"quantitative","scale":{"domain":[0,120]},"axis":{"values":[0,20,40,60,80,100,120],"tickSize":11,"labelPadding":2,"labelExpr":"['0600','0620','0640','0700','0720','0740','0800'][datum.value/20]","title":"UT","titleX":-121,"titleY":23,"titleAlign":"left","titleBaseline":"middle"}},"x2":{"field":"t2"},"y":{"field":"c","type":"nominal","scale":{"domain":["17.8","10","5.62"],"paddingInner":0,"paddingOuter":0},"axis":{"tickSize":11,"labelAlign":"left","labelPadding":65,"labelOffset":6,"title":null}},"color":{"field":"v","type":"quantitative","legend":null,"scale":{"domain":[-105,-100,-90.5,-82.5,-70,-59,-50],"range":["#000000","#0000ff","#00ffff","#00ff00","#ffff00","#ff0000","#ff00aa"]}}}},
{"data":{"name":"vl"},"mark":{"type":"rule","color":"black","strokeWidth":1},"encoding":{"x":{"field":"t","type":"quantitative"}}},
{"data":{"values":[{"s":"MCA"}]},"mark":{"type":"text","font":"Liberation Mono","fontSize":20,"align":"left","baseline":"middle","dy":6,"color":"black"},"encoding":{"x":{"datum":121.87},"y":{"datum":"10"},"text":{"field":"s"}}}
]},
{"width":900,"height":36,"data":{"values":[{"a":1}]},"mark":{"type":"point","opacity":0},"encoding":{}},
{"width":900,"height":90,"data":{"values":[{"t":0,"c":"GSMX","s":"-161.5"},{"t":20,"c":"GSMX","s":"-161.5"},{"t":40,"c":"GSMX","s":"-161.5"},{"t":60,"c":"GSMX","s":"-161.5"},{"t":80,"c":"GSMX","s":"-161.4"},{"t":100,"c":"GSMX","s":"-161.4"},{"t":120,"c":"GSMX","s":"-161.4"},{"t":0,"c":"GSMY","s":"5.7"},{"t":20,"c":"GSMY","s":"5.7"},{"t":40,"c":"GSMY","s":"5.8"},{"t":60,"c":"GSMY","s":"5.8"},{"t":80,"c":"GSMY","s":"5.8"},{"t":100,"c":"GSMY","s":"5.8"},{"t":120,"c":"GSMY","s":"5.9"},{"t":0,"c":"GSMZ","s":"5.0"},{"t":20,"c":"GSMZ","s":"4.9"},{"t":40,"c":"GSMZ","s":"4.8"},{"t":60,"c":"GSMZ","s":"4.8"},{"t":80,"c":"GSMZ","s":"4.7"},{"t":100,"c":"GSMZ","s":"4.7"},{"t":120,"c":"GSMZ","s":"4.6"}]},"mark":{"type":"text","font":"Liberation Mono","fontSize":20,"align":"right","dx":27,"color":"black"},"encoding":{"x":{"field":"t","type":"quantitative","scale":{"domain":[0,120]},"axis":null},"y":{"field":"c","type":"nominal","scale":{"domain":["GSMX","GSMY","GSMZ"],"paddingInner":0,"paddingOuter":0},"axis":{"ticks":false,"tickSize":0,"labelAlign":"left","labelPadding":121,"title":null}},"text":{"field":"s"}}}
],"spacing":0,"bounds":"flush","resolve":{"scale":{"color":"independent"}}},
{"vconcat":[
{"width":12,"height":581,"data":{"values":[{"o":0,"s":"MemR","k":"black"},{"o":1,"s":"MemW","k":"red"},{"o":2,"s":"Sing","k":"blue"},{"o":3,"s":"Dual","k":"cyan"},{"o":4,"s":"Ex\u00a0Bx","k":"blue"},{"o":5,"s":"Ey\u00a0Bz","k":"red"}]},"layer":[
{"mark":{"type":"rule","strokeWidth":10},"encoding":{"x":{"value":25},"x2":{"value":55},"y":{"field":"o","type":"quantitative","scale":{"domain":[0,1,2,3,4,5],"range":[205,235,265,295,405,435]},"axis":null},"stroke":{"field":"k","type":"nominal","scale":null}}},
{"mark":{"type":"text","font":"Liberation Mono","fontSize":20,"align":"left","dy":7},"encoding":{"x":{"value":75},"y":{"field":"o","type":"quantitative"},"text":{"field":"s"},"fill":{"field":"k","type":"nominal","scale":null}}}
]},
{"title":{"text":"dBV/m/√H̅z̅","offset":16},"width":12,"height":256,"data":{"values":[{"lo":-190,"hi":-90}]},"mark":{"type":"rect","stroke":"black","strokeWidth":1,"fill":{"gradient":"linear","x1":0,"y1":1,"x2":0,"y2":0,"stops":[{"offset":0,"color":"#0000ff"},{"offset":0.19,"color":"#00ffff"},{"offset":0.35,"color":"#00ff00"},{"offset":0.6,"color":"#ffff00"},{"offset":0.82,"color":"#ff0000"},{"offset":1,"color":"#ff00aa"}]}},"encoding":{"y":{"field":"lo","type":"quantitative","scale":{"domain":[-190,-90]},"axis":{"orient":"right","values":[-190,-170,-150,-130,-110,-90],"tickSize":9,"labelAlign":"right","labelPadding":51,"labelOffset":-8,"title":null}},"y2":{"field":"hi"}}},
{"width":12,"height":318,"data":{"values":[{"o":0,"s":"PWI","k":"black"},{"o":1,"s":"MGF","k":"magenta"}]},"layer":[
{"mark":{"type":"rule","strokeWidth":10},"encoding":{"x":{"value":25},"x2":{"value":55},"y":{"field":"o","type":"quantitative","scale":{"domain":[0,1],"range":[68,98]},"axis":null},"stroke":{"field":"k","type":"nominal","scale":null}}},
{"mark":{"type":"text","font":"Liberation Mono","fontSize":20,"align":"left","dy":7},"encoding":{"x":{"value":75},"y":{"field":"o","type":"quantitative"},"text":{"field":"s"},"fill":{"field":"k","type":"nominal","scale":null}}}
]},
{"title":{"text":"dBnT/√H̅z̅","offset":92},"width":12,"height":257,"data":{"values":[{"lo":-100,"hi":-50}]},"mark":{"type":"rect","stroke":"black","strokeWidth":1,"fill":{"gradient":"linear","x1":0,"y1":1,"x2":0,"y2":0,"stops":[{"offset":0,"color":"#0000ff"},{"offset":0.19,"color":"#00ffff"},{"offset":0.35,"color":"#00ff00"},{"offset":0.6,"color":"#ffff00"},{"offset":0.82,"color":"#ff0000"},{"offset":1,"color":"#ff00aa"}]}},"encoding":{"y":{"field":"lo","type":"quantitative","scale":{"domain":[-100,-50]},"axis":{"orient":"right","values":[-100,-90,-80,-70,-60,-50],"tickSize":9,"labelAlign":"right","labelPadding":51,"labelOffset":-8,"title":null}},"y2":{"field":"hi"}}}
],"spacing":0,"bounds":"flush"}
]}
